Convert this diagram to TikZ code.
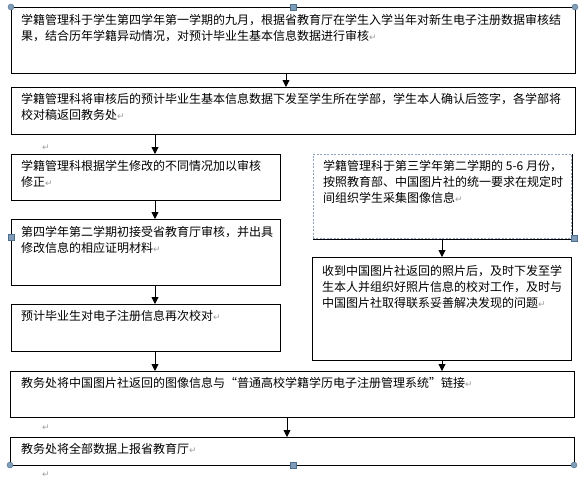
\documentclass[tikz,border=0pt]{standalone}
\usepackage{fontspec}
\setmainfont{Noto Sans CJK SC}
\newfontfamily\symf{DejaVu Sans}
\usetikzlibrary{arrows.meta}
\definecolor{handle}{HTML}{7F9DB9}
\definecolor{handleD}{HTML}{4F6F8F}
\definecolor{dashc}{HTML}{8FA3BF}
\newcommand{\pmark}{{\color{gray!75}\symf\fontsize{9}{9}\selectfont ↵}}
\newcommand{\oq}{\makebox[12pt][r]{“}}
\newcommand{\cq}{\makebox[12pt][l]{”}}
\begin{document}
\begin{tikzpicture}[x=1pt,y=-1pt,
  box/.style={draw=black, line width=0.9pt, anchor=north west, inner sep=0pt, outer sep=0pt},
  txt/.style={anchor=north west, inner sep=0pt, align=left, font=\fontsize{12}{16}\selectfont},
  arr/.style={line width=0.9pt, -{Triangle[width=7pt,length=7pt]}},
  hc/.style={circle, fill=handle, draw=handleD, line width=0.4pt, minimum size=6pt, inner sep=0pt},
  hs/.style={rectangle, fill=handle, draw=handleD, line width=0.4pt, minimum size=6pt, inner sep=0pt}]
\useasboundingbox (0,0) rectangle (581,480);
\fill[white] (0,0) rectangle (581,480);
% boxes
\node[box, minimum width=564pt, minimum height=66pt] (b1) at (11,7) {};
\node[box, minimum width=564pt, minimum height=47pt] (b2) at (11,87) {};
\node[box, minimum width=269pt, minimum height=46pt] (b3) at (11,154) {};
\node[box, minimum width=269pt, minimum height=66pt] (b4) at (11,219) {};
\node[box, minimum width=269pt, minimum height=47pt] (b5) at (11,304) {};
\node[box, draw=none, minimum width=258pt, minimum height=84pt] (r1) at (313,154) {};
\draw[dashc, dashed, line width=0.7pt, dash pattern=on 2pt off 1.5pt] (r1.south west) rectangle (r1.north east);
\draw[black, line width=0.9pt] ([xshift=1pt]r1.north east) -- ([shift={(1pt,-1pt)}]r1.south east) -- ([yshift=-1pt]r1.south west);
\node[box, minimum width=259pt, minimum height=103pt] (r2) at (312,257) {};
\node[box, minimum width=564pt, minimum height=46pt] (b6) at (10,371) {};
\node[box, minimum width=564pt, minimum height=28pt] (b7) at (10,437) {};
% texts
\node[txt] (t1) at (21,14) {学籍管理科于学生第四学年第一学期的九月，根据省教育厅在学生入学当年对新生电子注册数据审核结\\果，结合历年学籍异动情况，对预计毕业生基本信息数据进行审核\pmark};
\node[txt] (t2) at (21,93) {学籍管理科将审核后的预计毕业生基本信息数据下发至学生所在学部，学生本人确认后签字，各学部将\\校对稿返回教务处\pmark};
\node[txt] (t3) at (21,160) {学籍管理科根据学生修改的不同情况加以审核\\修正\pmark};
\node[txt] (t4) at (21,226) {第四学年第二学期初接受省教育厅审核，并出具\\修改信息的相应证明材料\pmark};
\node[txt] (t5) at (21,310) {预计毕业生对电子注册信息再次校对\pmark};
\node[txt] (t6) at (323,160) {学籍管理科于第三学年第二学期的 5-6 月份，\\按照教育部、中国图片社的统一要求在规定时\\间组织学生采集图像信息\pmark};
\node[txt] (t7) at (322,265) {收到中国图片社返回的照片后，及时下发至学\\生本人并组织好照片信息的校对工作，及时与\\中国图片社取得联系妥善解决发现的问题\pmark};
\node[txt] (t8) at (21,377) {教务处将中国图片社返回的图像信息与\oq 普通高校学籍学历电子注册管理系统\cq 链接\pmark};
\node[txt] (t9) at (21,443) {教务处将全部数据上报省教育厅\pmark};
% stray paragraph marks
\node[inner sep=0pt] (p1) at (46,148) {\pmark};
\node[inner sep=0pt] (p2) at (46,428) {\pmark};
\node[inner sep=0pt] (p3) at (46,475) {\pmark};
% connector x positions
\coordinate (xa) at (286,0);
\coordinate (xb) at (155,0);
\coordinate (xc) at (442,0);
\coordinate (xd) at (287,0);
\draw[arr] (b1.south -| xa) -- (b2.north -| xa);
\draw[arr] (b2.south -| xb) -- (b3.north -| xb);
\draw[arr] (b3.south -| xb) -- (b4.north -| xb);
\draw[arr] (b4.south -| xb) -- (b5.north -| xb);
\draw[arr] (b5.south -| xb) -- (b6.north -| xb);
\draw[arr] ([yshift=-1pt]r1.south -| xc) -- (r2.north -| xc);
\draw[arr] (r2.south -| xc) -- (b6.north -| xc);
\draw[arr] (b6.south -| xd) -- (b7.north -| xd);
% canvas handles
\node[hc] (h1) at (11,7) {};
\node[hs] (h2) at (293,7) {};
\node[hc] (h3) at (575,7) {};
\node[hs] (h4) at (11,237) {};
\node[hs] (h5) at (574,238) {};
\node[hc] (h6) at (10,465) {};
\node[hs] (h7) at (293,465) {};
\node[hc] (h8) at (574,465) {};
\end{tikzpicture}
\end{document}
